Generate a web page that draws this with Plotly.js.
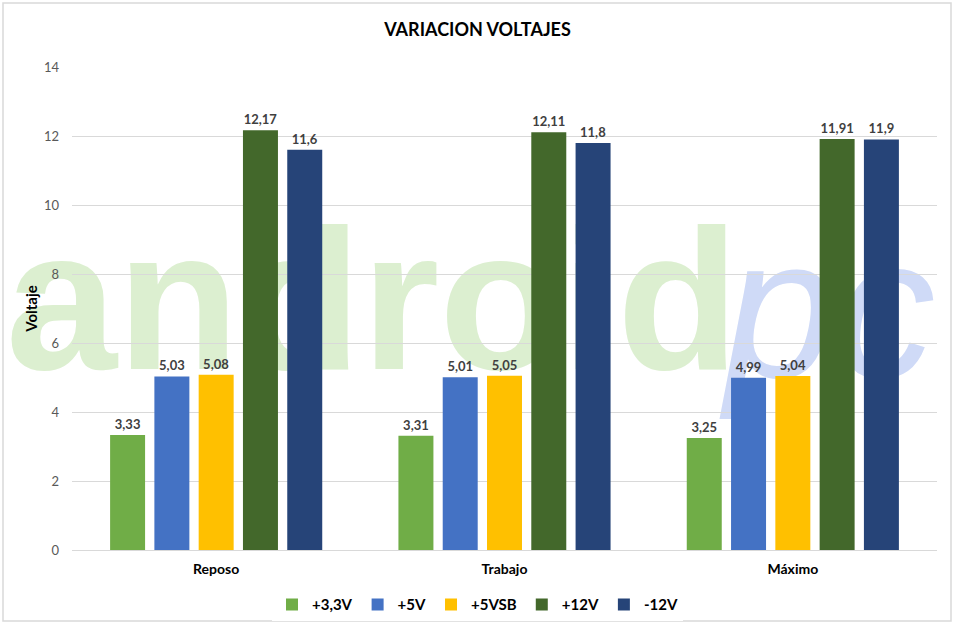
<!DOCTYPE html>
<html><head><meta charset="utf-8">
<script src="https://cdn.plot.ly/plotly-3.0.1.min.js"></script>
<style>html,body{margin:0;padding:0;background:#fff}#c{width:955px;height:626px}</style>
</head><body><div id="c"></div>
<script>
const categories = ["Reposo", "Trabajo", "Máximo"];
const seriesNames = ["+3,3V", "+5V", "+5VSB", "+12V", "-12V"];
const v33 = [3.33, 3.31, 3.25];
const v5 = [5.03, 5.01, 4.99];
const v5sb = [5.08, 5.05, 5.04];
const v12 = [12.17, 12.11, 11.91];
const vm12 = [11.6, 11.8, 11.9];
const yTicks = [0, 2, 4, 6, 8, 10, 12, 14];

const colors = ["#70AD47", "#4472C4", "#FFC000", "#43682B", "#264478"];
const allSeries = [v33, v5, v5sb, v12, vm12];
const fmt = v => String(v).replace('.', ',');

const traces = allSeries.map((vals, i) => ({
  type: 'bar', name: seriesNames[i], x: categories, y: vals,
  marker: {color: colors[i]},
  text: vals.map(fmt), textposition: 'outside', cliponaxis: false,
  textfont: {family: 'Lato, sans-serif', size: 13, color: '#404040', weight: 'bold'},
  hoverinfo: 'skip'
}));

const L = 72, R = 18, T = 67, B = 76, W = 955, H = 626;
const pw = W - L - R, ph = H - T - B;
const px = x => (x - L) / pw;
const py = y => 1 - (y - T) / ph;

const layout = {
  width: W, height: H,
  margin: {l: L, r: R, t: T, b: B, autoexpand: false},
  paper_bgcolor: '#fff', plot_bgcolor: 'rgba(0,0,0,0)',
  font: {family: 'Lato, sans-serif', color: '#595959'},
  title: {text: '<b>VARIACION VOLTAJES</b>', x: 0.5, xref: 'container', xanchor: 'center', y: 0.952, yanchor: 'middle',
    font: {size: 18, color: '#000', family: 'Lato, sans-serif'}},
  barmode: 'group', bargap: 0.232, bargroupgap: 0.21,
  showlegend: true,
  legend: {orientation: 'h', x: 0.5, xref: 'container', xanchor: 'center', y: 0.034, yref: 'container', yanchor: 'middle',
    font: {size: 15, color: '#000', weight: 'bold'}, traceorder: 'normal', itemwidth: 30},
  xaxis: {tickfont: {size: 14, color: '#000', weight: 'bold'}, showline: true, linecolor: '#d9d9d9', ticks: '',
    ticklabelstandoff: 6, fixedrange: true},
  yaxis: {range: [0, 14], tickvals: yTicks, ticktext: yTicks.map(String), gridcolor: '#d9d9d9', zeroline: false,
    tickfont: {size: 13, color: '#595959'}, ticks: '', ticklen: 0, ticklabelstandoff: 12,
    title: {text: '<b>Voltaje</b>', font: {size: 15, color: '#000'}, standoff: 2}},
  shapes: [
    {type: 'rect', xref: 'paper', yref: 'paper', x0: px(3), x1: px(951), y0: py(621), y1: py(3),
      line: {color: '#d9d9d9', width: 1.5}, fillcolor: 'rgba(0,0,0,0)', layer: 'below'},
    {type: 'rect', xref: 'paper', yref: 'paper', x0: px(10), x1: px(735), y0: py(390), y1: py(170),
      line: {width: 0}, fillcolor: 'rgba(0,0,0,0)', layer: 'below',
      label: {text: 'android', textposition: 'middle center',
        font: {family: 'Liberation Sans, Arial, sans-serif', size: 200, color: '#dcefd0', weight: 'bold'}}},
    {type: 'rect', xref: 'paper', yref: 'paper', x0: px(700), x1: px(960), y0: py(398), y1: py(178),
      line: {width: 0}, fillcolor: 'rgba(0,0,0,0)', layer: 'below',
      label: {text: 'pc', textposition: 'middle center',
        font: {family: 'Liberation Sans, Arial, sans-serif', size: 200, color: '#cfdaf7', style: 'italic'}}}
  ]
};

Plotly.newPlot('c', traces, layout, {displayModeBar: false, staticPlot: true});
</script></body></html>
